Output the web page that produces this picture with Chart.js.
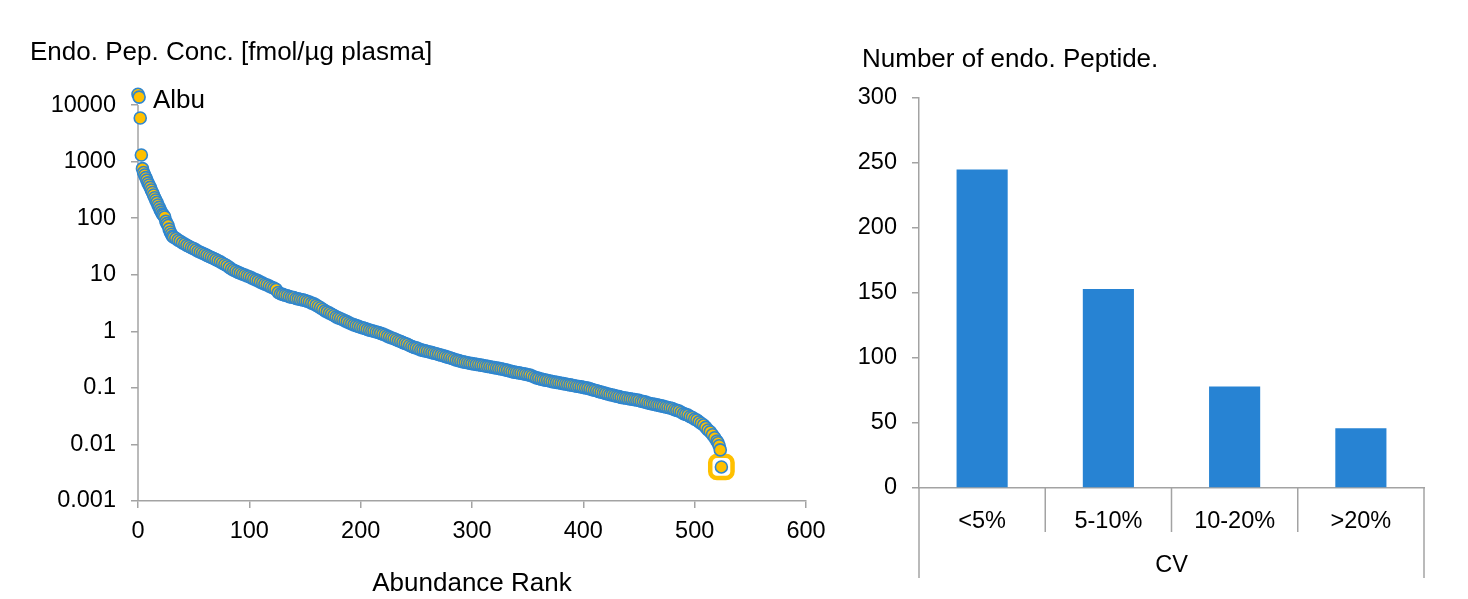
<!DOCTYPE html>
<html>
<head>
<meta charset="utf-8">
<script src="https://cdn.jsdelivr.net/npm/chart.js@4/dist/chart.umd.min.js"></script>
<style>
  html, body { margin: 0; padding: 0; background: #fff; }
  #wrap { position: relative; width: 1468px; height: 599px; overflow: hidden; }
  canvas { position: absolute; top: 0; }
  #rankChart { left: 0; }
  #cvChart { left: 840px; }
</style>
</head>
<body>
<div id="wrap">
  <canvas id="rankChart" width="840" height="599"></canvas>
  <canvas id="cvChart" width="628" height="599"></canvas>
</div>
<script>
// abundance rank vs concentration
const ranks = [0, 1, 2, 3, 4, 5, 6, 7, 8, 9, 10, 11, 12, 13, 14, 15, 16, 17, 18, 19, 20,
  21, 22, 23, 24, 25, 26, 27, 28, 29, 30, 31,
  32, 34, 36, 38, 40, 42, 44, 46, 48, 50, 52, 54, 56, 58, 60, 62, 64, 66, 68, 70,
  72, 74, 76, 78, 80, 82, 84, 86, 88, 90, 92, 94, 96, 98, 100, 102, 104, 106, 108, 110,
  112, 114, 116, 118, 120, 122, 124, 126, 128, 130, 132, 134, 136, 138, 140, 142, 144, 146, 148, 150,
  152, 154, 156, 158, 160, 162, 164, 166, 168, 170, 172, 174, 176, 178, 180, 182, 184, 186, 188, 190,
  192, 194, 196, 198, 200, 202, 204, 206, 208, 210, 212, 214, 216, 218, 220, 222, 224, 226, 228, 230,
  232, 234, 236, 238, 240, 242, 244, 246, 248, 250, 252, 254, 256, 258, 260, 262, 264, 266, 268, 270,
  272, 274, 276, 278, 280, 282, 284, 286, 288, 290, 292, 294, 296, 298, 300, 302, 304, 306, 308, 310,
  312, 314, 316, 318, 320, 322, 324, 326, 328, 330, 332, 334, 336, 338, 340, 342, 344, 346, 348, 350,
  352, 354, 356, 358, 360, 362, 364, 366, 368, 370, 372, 374, 376, 378, 380, 382, 384, 386, 388, 390,
  392, 394, 396, 398, 400, 402, 404, 406, 408, 410, 412, 414, 416, 418, 420, 422, 424, 426, 428, 430,
  432, 434, 436, 438, 440, 442, 444, 446, 448, 450, 452, 454, 456, 458, 460, 462, 464, 466, 468, 470,
  472, 474, 476, 478, 480, 482, 484, 486, 488, 490, 492, 494, 496, 498, 500, 502,
  504, 506, 508, 510, 512, 514, 516, 518, 520, 521, 522, 523, 524];
const conc = [15500, 13800, 5900, 1310, 750, 640, 580, 520, 470, 420, 385, 350, 315, 285,
  257, 230, 210, 190, 171, 155, 140, 128, 118, 112, 105, 88, 80, 74, 64, 57, 52, 48,
  46, 44, 41, 39, 36.5, 35, 33, 31.5, 30, 29, 27.5, 26, 25, 24, 23, 22, 21, 20.2, 19.4, 18.5,
  17.7, 16.9, 16, 15.2, 14.4, 13.5, 12.6, 12, 11.5, 11, 10.6, 10.2, 9.9, 9.5, 9.2, 8.8, 8.4, 8.1, 7.8, 7.4,
  7.1, 6.8, 6.6, 6.3, 6.0, 5.8, 5.5, 4.85, 4.6, 4.5, 4.35, 4.25, 4.1, 4.0, 3.95, 3.8, 3.75, 3.65, 3.6, 3.5,
  3.4, 3.3, 3.15, 3.05, 2.9, 2.75, 2.6, 2.45, 2.3, 2.2, 2.1, 2.0, 1.9, 1.8, 1.73, 1.67, 1.6, 1.53, 1.47, 1.4,
  1.35, 1.3, 1.26, 1.22, 1.18, 1.15, 1.12, 1.08, 1.05, 1.02, 1.0, 0.97, 0.95, 0.92, 0.89, 0.86, 0.82, 0.79, 0.76, 0.74,
  0.71, 0.68, 0.66, 0.63, 0.61, 0.59, 0.56, 0.54, 0.52, 0.51, 0.49, 0.47, 0.46, 0.45, 0.44, 0.43, 0.42, 0.41, 0.4, 0.39,
  0.38, 0.37, 0.36, 0.35, 0.34, 0.33, 0.32, 0.31, 0.303, 0.296, 0.288, 0.283, 0.278, 0.273, 0.268, 0.264, 0.26, 0.256, 0.252, 0.248,
  0.244, 0.24, 0.236, 0.232, 0.228, 0.225, 0.221, 0.217, 0.213, 0.208, 0.204, 0.199, 0.194, 0.19, 0.187, 0.184, 0.181, 0.178, 0.175, 0.171,
  0.168, 0.162, 0.156, 0.15, 0.147, 0.143, 0.14, 0.137, 0.135, 0.132, 0.129, 0.127, 0.125, 0.123, 0.121, 0.119, 0.117, 0.115, 0.113, 0.111,
  0.109, 0.107, 0.106, 0.104, 0.102, 0.1, 0.099, 0.096, 0.093, 0.091, 0.089, 0.086, 0.084, 0.082, 0.08, 0.078, 0.076, 0.075, 0.073, 0.071,
  0.07, 0.068, 0.067, 0.066, 0.065, 0.064, 0.063, 0.062, 0.061, 0.06, 0.058, 0.057, 0.056, 0.054, 0.053, 0.052, 0.051, 0.05, 0.049, 0.048,
  0.047, 0.046, 0.045, 0.044, 0.043, 0.041, 0.04, 0.039, 0.037, 0.035, 0.034, 0.033, 0.031, 0.03, 0.028, 0.027,
  0.025, 0.0235, 0.022, 0.02, 0.018, 0.0167, 0.0148, 0.0131, 0.0115, 0.0107, 0.0095, 0.008, 0.004];
const concTicks = [0.001, 0.01, 0.1, 1, 10, 100, 1000, 10000];
const concTickLabels = ["0.001", "0.01", "0.1", "1", "10", "100", "1000", "10000"];

// CV distribution
const cvCategories = ["<5%", "5-10%", "10-20%", ">20%"];
const cvCounts = [245, 153, 78, 46];

const FONT = "'Liberation Sans', Arial, sans-serif";
const AXIS_GREY = "#A3A3A3";
const tickFont = { family: FONT, size: 23.5 };
const titleFont = { family: FONT, size: 26 };

Chart.defaults.font.family = FONT;
Chart.defaults.color = "#000";

const points = ranks.map((r, i) => ({ x: r, y: conc[i] }));
const lastPoint = points[points.length - 1];

// y axis line only up to the top tick (the scale itself runs a little higher
// so the Albumin points above 10000 still get drawn), plus the free texts
const rankExtras = {
    id: "rankExtras",
    beforeDatasetsDraw(chart) {
        const ctx = chart.ctx;
        const xs = chart.scales.x, ys = chart.scales.y;
        const x = xs.getPixelForValue(0);
        ctx.save();
        ctx.strokeStyle = AXIS_GREY;
        ctx.lineWidth = 1.5;
        ctx.beginPath();
        ctx.moveTo(x, ys.getPixelForValue(concTicks[concTicks.length - 1]));
        ctx.lineTo(x, ys.getPixelForValue(concTicks[0]));
        ctx.stroke();
        ctx.restore();
    },
    afterDraw(chart) {
        const ctx = chart.ctx;
        const xs = chart.scales.x, ys = chart.scales.y;
        ctx.save();
        ctx.fillStyle = "#000";
        ctx.textBaseline = "middle";
        ctx.font = "26px " + FONT;
        ctx.fillText("Endo. Pep. Conc. [fmol/\u00b5g plasma]", 30, 53);
        ctx.fillText("Albu", xs.getPixelForValue(ranks[0]) + 15, ys.getPixelForValue(conc[0]) + 7);
        ctx.restore();
    }
};

new Chart(document.getElementById("rankChart"), {
    type: "scatter",
    data: {
        datasets: [
            {
                data: points,
                pointRadius: 6,
                pointBorderWidth: 1.6,
                pointBackgroundColor: "#FFC000",
                pointBorderColor: "#2F86CF",
                clip: false,
                order: 0,
            },
            {
                data: [lastPoint],
                pointStyle: "rectRounded",
                pointRadius: 13,
                pointBorderWidth: 4.5,
                pointBackgroundColor: "#fff",
                pointBorderColor: "#FFC000",
                clip: false,
                order: 1,
            },
        ],
    },
    options: {
        responsive: false,
        animation: false,
        devicePixelRatio: 1,
        layout: { padding: { left: 0, top: 88, right: 34, bottom: 0 } },
        plugins: { legend: { display: false }, tooltip: { enabled: false } },
        scales: {
            x: {
                type: "linear",
                min: 0,
                max: 600,
                ticks: { stepSize: 100, font: tickFont, color: "#000", padding: 9, maxRotation: 0 },
                grid: { drawOnChartArea: false, tickLength: 7, color: AXIS_GREY, lineWidth: 1.5 },
                border: { color: AXIS_GREY, width: 1.5 },
                title: { display: true, text: "Abundance Rank", font: titleFont, color: "#000", padding: 0 },
                afterFit(scale) { scale.height = 98; },
            },
            y: {
                type: "logarithmic",
                min: 0.001,
                max: 20000,
                afterBuildTicks(scale) {
                    scale.ticks = concTicks.map(v => ({ value: v }));
                },
                ticks: {
                    font: tickFont,
                    color: "#000",
                    padding: 15,
                    callback: (v) => concTickLabels[concTicks.indexOf(v)],
                },
                grid: { drawOnChartArea: false, tickLength: 7, color: AXIS_GREY, lineWidth: 1.5 },
                border: { display: false },
                afterFit(scale) { scale.width = 138; },
            },
        },
    },
    plugins: [rankExtras],
});

// category separators of the two-level axis and the panel title
const cvAxisLines = {
    id: "cvAxisLines",
    afterDraw(chart) {
        const ctx = chart.ctx;
        const area = chart.chartArea;
        const xs = chart.scales.x;
        const n = cvCategories.length;
        ctx.save();
        ctx.strokeStyle = AXIS_GREY;
        ctx.lineWidth = 1.5;
        for (let i = 0; i <= n; i++) {
            let x;
            if (i === 0) x = area.left;
            else if (i === n) x = area.right;
            else x = (xs.getPixelForValue(i - 1) + xs.getPixelForValue(i)) / 2;
            const len = (i === 0 || i === n) ? 90 : 44;
            ctx.beginPath();
            ctx.moveTo(x, area.bottom);
            ctx.lineTo(x, area.bottom + len);
            ctx.stroke();
        }
        ctx.fillStyle = "#000";
        ctx.textBaseline = "middle";
        ctx.font = "26px " + FONT;
        ctx.fillText("Number of endo. Peptide.", 22, 60);
        ctx.restore();
    }
};

new Chart(document.getElementById("cvChart"), {
    type: "bar",
    data: {
        labels: cvCategories,
        datasets: [
            {
                data: cvCounts,
                backgroundColor: "#2783D3",
                borderWidth: 0,
                categoryPercentage: 1,
                barPercentage: 0.405,
            },
        ],
    },
    options: {
        responsive: false,
        animation: false,
        devicePixelRatio: 1,
        layout: { padding: { left: 0, top: 98, right: 44, bottom: 0 } },
        plugins: { legend: { display: false }, tooltip: { enabled: false } },
        scales: {
            x: {
                offset: true,
                ticks: { font: tickFont, color: "#000", padding: 19, maxRotation: 0 },
                grid: { display: false, drawTicks: false },
                border: { color: AXIS_GREY, width: 1.5 },
                title: { display: true, text: "CV", font: tickFont, color: "#000", padding: { top: 0, bottom: 19 } },
                afterFit(scale) { scale.height = 111; },
            },
            y: {
                min: 0,
                max: 300,
                ticks: { stepSize: 50, font: tickFont, color: "#000", padding: 15 },
                grid: { drawOnChartArea: false, tickLength: 7, color: AXIS_GREY, lineWidth: 1.5 },
                border: { color: AXIS_GREY, width: 1.5 },
                afterFit(scale) { scale.width = 79; },
            },
        },
    },
    plugins: [cvAxisLines],
});
</script>
</body>
</html>
